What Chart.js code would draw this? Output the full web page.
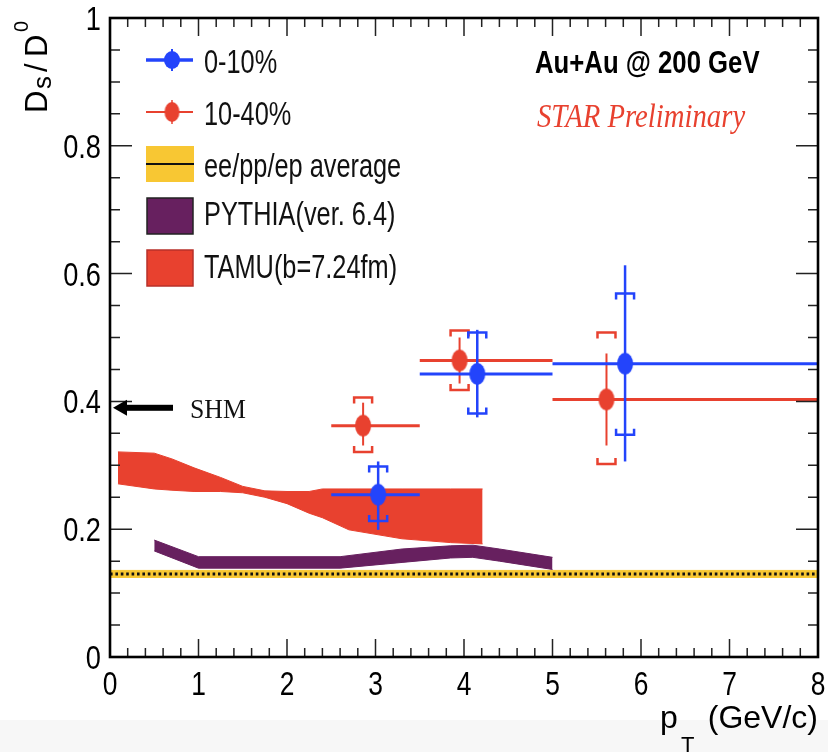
<!DOCTYPE html>
<html>
<head>
<meta charset="utf-8">
<title>Ds/D0 ratio</title>
<script src="https://cdn.jsdelivr.net/npm/chart.js@4.4.1/dist/chart.umd.min.js"></script>
<style>
  body { margin: 0; background: #fff; }
  #wrap { width: 828px; height: 752px; position: relative; }
</style>
</head>
<body>
<div id="wrap"><canvas id="ratioChart"></canvas></div>
<script>
// values

let xTicks = [0, 1, 2, 3, 4, 5, 6, 7, 8]
let xTickLabels = ['0', '1', '2', '3', '4', '5', '6', '7', '8']
let yTicks = [0, 0.2, 0.4, 0.6, 0.8, 1]
let yTickLabels = ['0', '0.2', '0.4', '0.6', '0.8', '1']

let blueX = [3.03, 4.15, 5.82]
let blueY = [0.254, 0.443, 0.459]
let blueBinLo = [2.5, 3.5, 5]
let blueBinHi = [3.5, 5, 8]
let blueStatLo = [0.199, 0.375, 0.306]
let blueStatHi = [0.306, 0.512, 0.613]
let blueSysLo = [0.213, 0.381, 0.348]
let blueSysHi = [0.298, 0.508, 0.569]

let redX = [2.86, 3.95, 5.61]
let redY = [0.362, 0.464, 0.403]
let redBinLo = [2.5, 3.5, 5]
let redBinHi = [3.5, 5, 8]
let redStatLo = [0.331, 0.428, 0.331]
let redStatHi = [0.398, 0.500, 0.475]
let redSysLo = [0.321, 0.418, 0.302]
let redSysHi = [0.406, 0.511, 0.508]

let avgX = [0, 8]
let avgY = [0.13, 0.13]
let avgHi = [0.1355, 0.1355]
let avgLo = [0.1245, 0.1245]

let pythiaX = [0.5, 1.0, 2.6, 3.3, 3.85, 4.1, 4.4, 5.0]
let pythiaHi = [0.183, 0.157, 0.157, 0.169, 0.174, 0.175, 0.169, 0.156]
let pythiaLo = [0.166, 0.139, 0.139, 0.148, 0.155, 0.156, 0.150, 0.137]

let tamuX = [0.09, 0.5, 0.7, 0.95, 1.25, 1.5, 1.75, 2.0, 2.25, 2.4, 2.7, 3.3, 3.85, 4.21]
let tamuHi = [0.321, 0.319, 0.310, 0.296, 0.281, 0.267, 0.260, 0.259, 0.259, 0.263, 0.263, 0.263, 0.263, 0.263]
let tamuLo = [0.271, 0.263, 0.261, 0.259, 0.259, 0.257, 0.250, 0.240, 0.225, 0.218, 0.199, 0.185, 0.179, 0.177]

let shmValue = 0.39

let legendLabels = ['0-10%', '10-40%', 'ee/pp/ep average', 'PYTHIA(ver. 6.4)', 'TAMU(b=7.24fm)']

let blue = '#2344fb'
let red = '#e8412f'
let gold = '#f8c733'
let purple = '#67205f'


function toPoints(xs, ys){
	return xs.map((x, i) => ({x: x, y: ys[i]}))
}

function ellipseMarker(color, rx, ry){
	let c = document.createElement('canvas')
	c.width = rx * 2 + 2
	c.height = ry * 2 + 2
	let g = c.getContext('2d')
	g.fillStyle = color
	g.beginPath()
	g.ellipse(c.width / 2, c.height / 2, rx, ry, 0, 0, Math.PI * 2)
	g.fill()
	return c
}

// text squeezed sideways, the way the original renders it
function drawText(ctx, str, x, y, font, color, sx, align){
	ctx.save()
	ctx.font = font
	ctx.fillStyle = color
	ctx.textBaseline = 'alphabetic'
	ctx.textAlign = 'left'
	let w = ctx.measureText(str).width * sx
	let left = x
	if (align === 'right') left = x - w
	if (align === 'center') left = x - w / 2
	ctx.translate(left, y)
	ctx.scale(sx, 1)
	ctx.fillText(str, 0, 0)
	ctx.restore()
	return w
}


let errorBars = {
	id: 'errorBars',
	beforeDatasetDraw(chart, args){
		let ds = chart.data.datasets[args.index]
		if (!ds.errors) return
		let e = ds.errors
		let xs = chart.scales.x
		let ys = chart.scales.y
		let ctx = chart.ctx
		ctx.save()
		ctx.strokeStyle = ds.barColor
		ctx.lineCap = 'butt'
		for (let i = 0; i < ds.data.length; i++) {
			let px = xs.getPixelForValue(ds.data[i].x)
			let py = ys.getPixelForValue(ds.data[i].y)
			// bin width
			ctx.lineWidth = 3
			ctx.beginPath()
			ctx.moveTo(xs.getPixelForValue(e.binLo[i]), py)
			ctx.lineTo(xs.getPixelForValue(e.binHi[i]), py)
			ctx.stroke()
			// statistical
			ctx.lineWidth = ds.statWidth
			ctx.beginPath()
			ctx.moveTo(px, ys.getPixelForValue(e.statLo[i]))
			ctx.lineTo(px, ys.getPixelForValue(e.statHi[i]))
			ctx.stroke()
			// systematic brackets
			ctx.lineWidth = 2.5
			let top = ys.getPixelForValue(e.sysHi[i])
			let bot = ys.getPixelForValue(e.sysLo[i])
			ctx.beginPath()
			ctx.moveTo(px - 9, top + 6)
			ctx.lineTo(px - 9, top)
			ctx.lineTo(px + 9, top)
			ctx.lineTo(px + 9, top + 6)
			ctx.moveTo(px - 9, bot - 6)
			ctx.lineTo(px - 9, bot)
			ctx.lineTo(px + 9, bot)
			ctx.lineTo(px + 9, bot - 6)
			ctx.stroke()
		}
		ctx.restore()
	}
}


let decorations = {
	id: 'decorations',
	beforeDraw(chart){
		let ctx = chart.ctx
		ctx.save()
		ctx.fillStyle = '#ffffff'
		ctx.fillRect(0, 0, chart.width, chart.height)
		ctx.fillStyle = '#f7f7f7'
		ctx.fillRect(0, 720, chart.width, chart.height - 720)
		ctx.restore()
	},
	afterDatasetsDraw(chart){
		let ctx = chart.ctx
		let a = chart.chartArea
		let xs = chart.scales.x
		let ys = chart.scales.y
		ctx.save()

		// ticks on all four sides
		ctx.strokeStyle = '#222'
		ctx.lineWidth = 1.5
		ctx.beginPath()
		for (let v = 0; v <= 8.001; v += 0.2) {
			let major = Math.abs(v - Math.round(v)) < 0.01
			let len = major ? 18 : 9
			let px = xs.getPixelForValue(v)
			ctx.moveTo(px, a.bottom)
			ctx.lineTo(px, a.bottom - len)
			ctx.moveTo(px, a.top)
			ctx.lineTo(px, a.top + len)
		}
		for (let k = 0; k <= 20; k++) {
			let v = k * 0.05
			let len = k % 4 === 0 ? 22 : 10
			let py = ys.getPixelForValue(v)
			ctx.moveTo(a.left, py)
			ctx.lineTo(a.left + len, py)
			ctx.moveTo(a.right, py)
			ctx.lineTo(a.right - len, py)
		}
		ctx.stroke()

		// frame
		ctx.strokeStyle = '#000'
		ctx.lineWidth = 2.6
		ctx.strokeRect(a.left, a.top, a.right - a.left, a.bottom - a.top)

		// tick labels
		xTicks.forEach((v, i) => {
			drawText(ctx, xTickLabels[i], xs.getPixelForValue(v), 695, '33px "Liberation Sans"', '#000', 0.8, 'center')
		})
		yTicks.forEach((v, i) => {
			drawText(ctx, yTickLabels[i], a.left - 9, ys.getPixelForValue(v) + 12, '34px "Liberation Sans"', '#000', 0.8, 'right')
		})

		// SHM arrow
		let ay = ys.getPixelForValue(shmValue)
		ctx.fillStyle = '#000'
		ctx.fillRect(a.left + 14, ay - 3, 49, 6)
		ctx.beginPath()
		ctx.moveTo(a.left + 3, ay)
		ctx.lineTo(a.left + 17, ay - 8)
		ctx.lineTo(a.left + 17, ay + 8)
		ctx.closePath()
		ctx.fill()
		drawText(ctx, 'SHM', a.left + 80, ay + 10, '28px "Liberation Serif"', '#111', 0.92, 'left')

		ctx.restore()
	},
	afterDraw(chart){
		let ctx = chart.ctx
		ctx.save()

		// legend
		let rows = [60, 112, 164, 216, 268]
		let base = [73, 125, 177, 225, 278]
		ctx.lineWidth = 3.5
		ctx.strokeStyle = blue
		ctx.beginPath(); ctx.moveTo(146, rows[0]); ctx.lineTo(193, rows[0]); ctx.stroke()
		ctx.lineWidth = 2
		ctx.beginPath(); ctx.moveTo(172, rows[0] - 11); ctx.lineTo(172, rows[0] + 11); ctx.stroke()
		ctx.drawImage(ellipseMarker(blue, 8, 9), 172 - 9, rows[0] - 10)
		ctx.strokeStyle = red
		ctx.lineWidth = 2
		ctx.beginPath(); ctx.moveTo(146, rows[1]); ctx.lineTo(193, rows[1]); ctx.stroke()
		ctx.lineWidth = 1.5
		ctx.beginPath(); ctx.moveTo(172, rows[1] - 12); ctx.lineTo(172, rows[1] + 12); ctx.stroke()
		ctx.drawImage(ellipseMarker(red, 7.5, 10), 172 - 8.5, rows[1] - 11)

		ctx.fillStyle = gold
		ctx.fillRect(146, 146, 48, 36)
		ctx.strokeStyle = '#111'
		ctx.lineWidth = 2
		ctx.beginPath(); ctx.moveTo(146, rows[2]); ctx.lineTo(194, rows[2]); ctx.stroke()

		ctx.fillStyle = purple
		ctx.fillRect(147, 198, 46, 36)
		ctx.strokeStyle = '#222'
		ctx.lineWidth = 1.5
		ctx.strokeRect(147, 198, 46, 36)

		ctx.fillStyle = red
		ctx.fillRect(147, 250, 46, 36)
		ctx.strokeStyle = '#b8302a'
		ctx.strokeRect(147, 250, 46, 36)

		legendLabels.forEach((t, i) => {
			drawText(ctx, t, 204, base[i], '34px "Liberation Sans"', '#111', 0.745, 'left')
		})

		// header text
		drawText(ctx, 'Au+Au @ 200 GeV', 535, 73, 'bold 31px "Liberation Sans"', '#000', 0.83, 'left')
		drawText(ctx, 'STAR Preliminary', 537, 127, 'italic 33px "Liberation Serif"', red, 0.87, 'left')

		// y title, rotated
		ctx.save()
		ctx.translate(47, 113)
		ctx.rotate(-Math.PI / 2)
		ctx.fillStyle = '#000'
		ctx.font = '31px "Liberation Sans"'
		ctx.fillText('D', 0, 0)
		ctx.font = '26px "Liberation Sans"'
		ctx.fillText('s', 24, 4)
		ctx.font = '31px "Liberation Sans"'
		ctx.fillText('/', 41, 0)
		ctx.fillText('D', 56, 0)
		ctx.font = '20px "Liberation Sans"'
		ctx.fillText('0', 81, -19)
		ctx.restore()

		// x title
		drawText(ctx, 'p', 660, 728, '32px "Liberation Sans"', '#000', 1, 'left')
		drawText(ctx, 'T', 681, 752, '22px "Liberation Sans"', '#000', 1, 'left')
		drawText(ctx, '(GeV/c)', 818, 728, '32px "Liberation Sans"', '#000', 1, 'right')

		ctx.restore()
	}
}


let ratioChart = document.getElementById('ratioChart').getContext('2d')

let myChart = new Chart(ratioChart, {
	type: 'scatter',
	data: {
		datasets: [
			{
				label: legendLabels[0],
				data: toPoints(blueX, blueY),
				pointStyle: ellipseMarker(blue, 8, 11),
				pointRadius: 8,
				barColor: blue,
				statWidth: 2.5,
				errors: {binLo: blueBinLo, binHi: blueBinHi, statLo: blueStatLo, statHi: blueStatHi, sysLo: blueSysLo, sysHi: blueSysHi},
				order: 1
			},
			{
				label: legendLabels[1],
				data: toPoints(redX, redY),
				pointStyle: ellipseMarker(red, 8, 11),
				pointRadius: 8,
				barColor: red,
				statWidth: 2,
				errors: {binLo: redBinLo, binHi: redBinHi, statLo: redStatLo, statHi: redStatHi, sysLo: redSysLo, sysHi: redSysHi},
				order: 2
			},
			{
				type: 'line',
				label: 'TAMU high',
				data: toPoints(tamuX, tamuHi),
				borderColor: red,
				borderWidth: 1,
				backgroundColor: red,
				pointRadius: 0,
				fill: '+1',
				order: 3
			},
			{
				type: 'line',
				label: 'TAMU low',
				data: toPoints(tamuX, tamuLo),
				borderColor: red,
				borderWidth: 1,
				pointRadius: 0,
				fill: false,
				order: 3
			},
			{
				type: 'line',
				label: 'PYTHIA high',
				data: toPoints(pythiaX, pythiaHi),
				borderColor: purple,
				borderWidth: 1,
				backgroundColor: purple,
				pointRadius: 0,
				fill: '+1',
				order: 4
			},
			{
				type: 'line',
				label: 'PYTHIA low',
				data: toPoints(pythiaX, pythiaLo),
				borderColor: purple,
				borderWidth: 1,
				pointRadius: 0,
				fill: false,
				order: 4
			},
			{
				type: 'line',
				label: legendLabels[2],
				data: toPoints(avgX, avgY),
				borderColor: '#111',
				borderWidth: 3,
				borderDash: [2.6, 2.8],
				pointRadius: 0,
				fill: false,
				order: 5
			},
			{
				type: 'line',
				label: 'avg high',
				data: toPoints(avgX, avgHi),
				borderColor: gold,
				borderWidth: 1,
				backgroundColor: gold,
				pointRadius: 0,
				fill: '+1',
				order: 6
			},
			{
				type: 'line',
				label: 'avg low',
				data: toPoints(avgX, avgLo),
				borderColor: gold,
				borderWidth: 1,
				pointRadius: 0,
				fill: false,
				order: 6
			}
		]
	},
	options: {
		responsive: true,
		maintainAspectRatio: false,
		animation: false,
		devicePixelRatio: 1,
		layout: {
			padding: {left: 110, right: 10, top: 18, bottom: 95}
		},
		scales: {
			x: {type: 'linear', min: 0, max: 8, display: false},
			y: {type: 'linear', min: 0, max: 1, display: false}
		},
		elements: {line: {tension: 0}},
		plugins: {
			legend: {display: false},
			tooltip: {enabled: false}
		}
	},
	plugins: [errorBars, decorations]
})
</script>
</body>
</html>
